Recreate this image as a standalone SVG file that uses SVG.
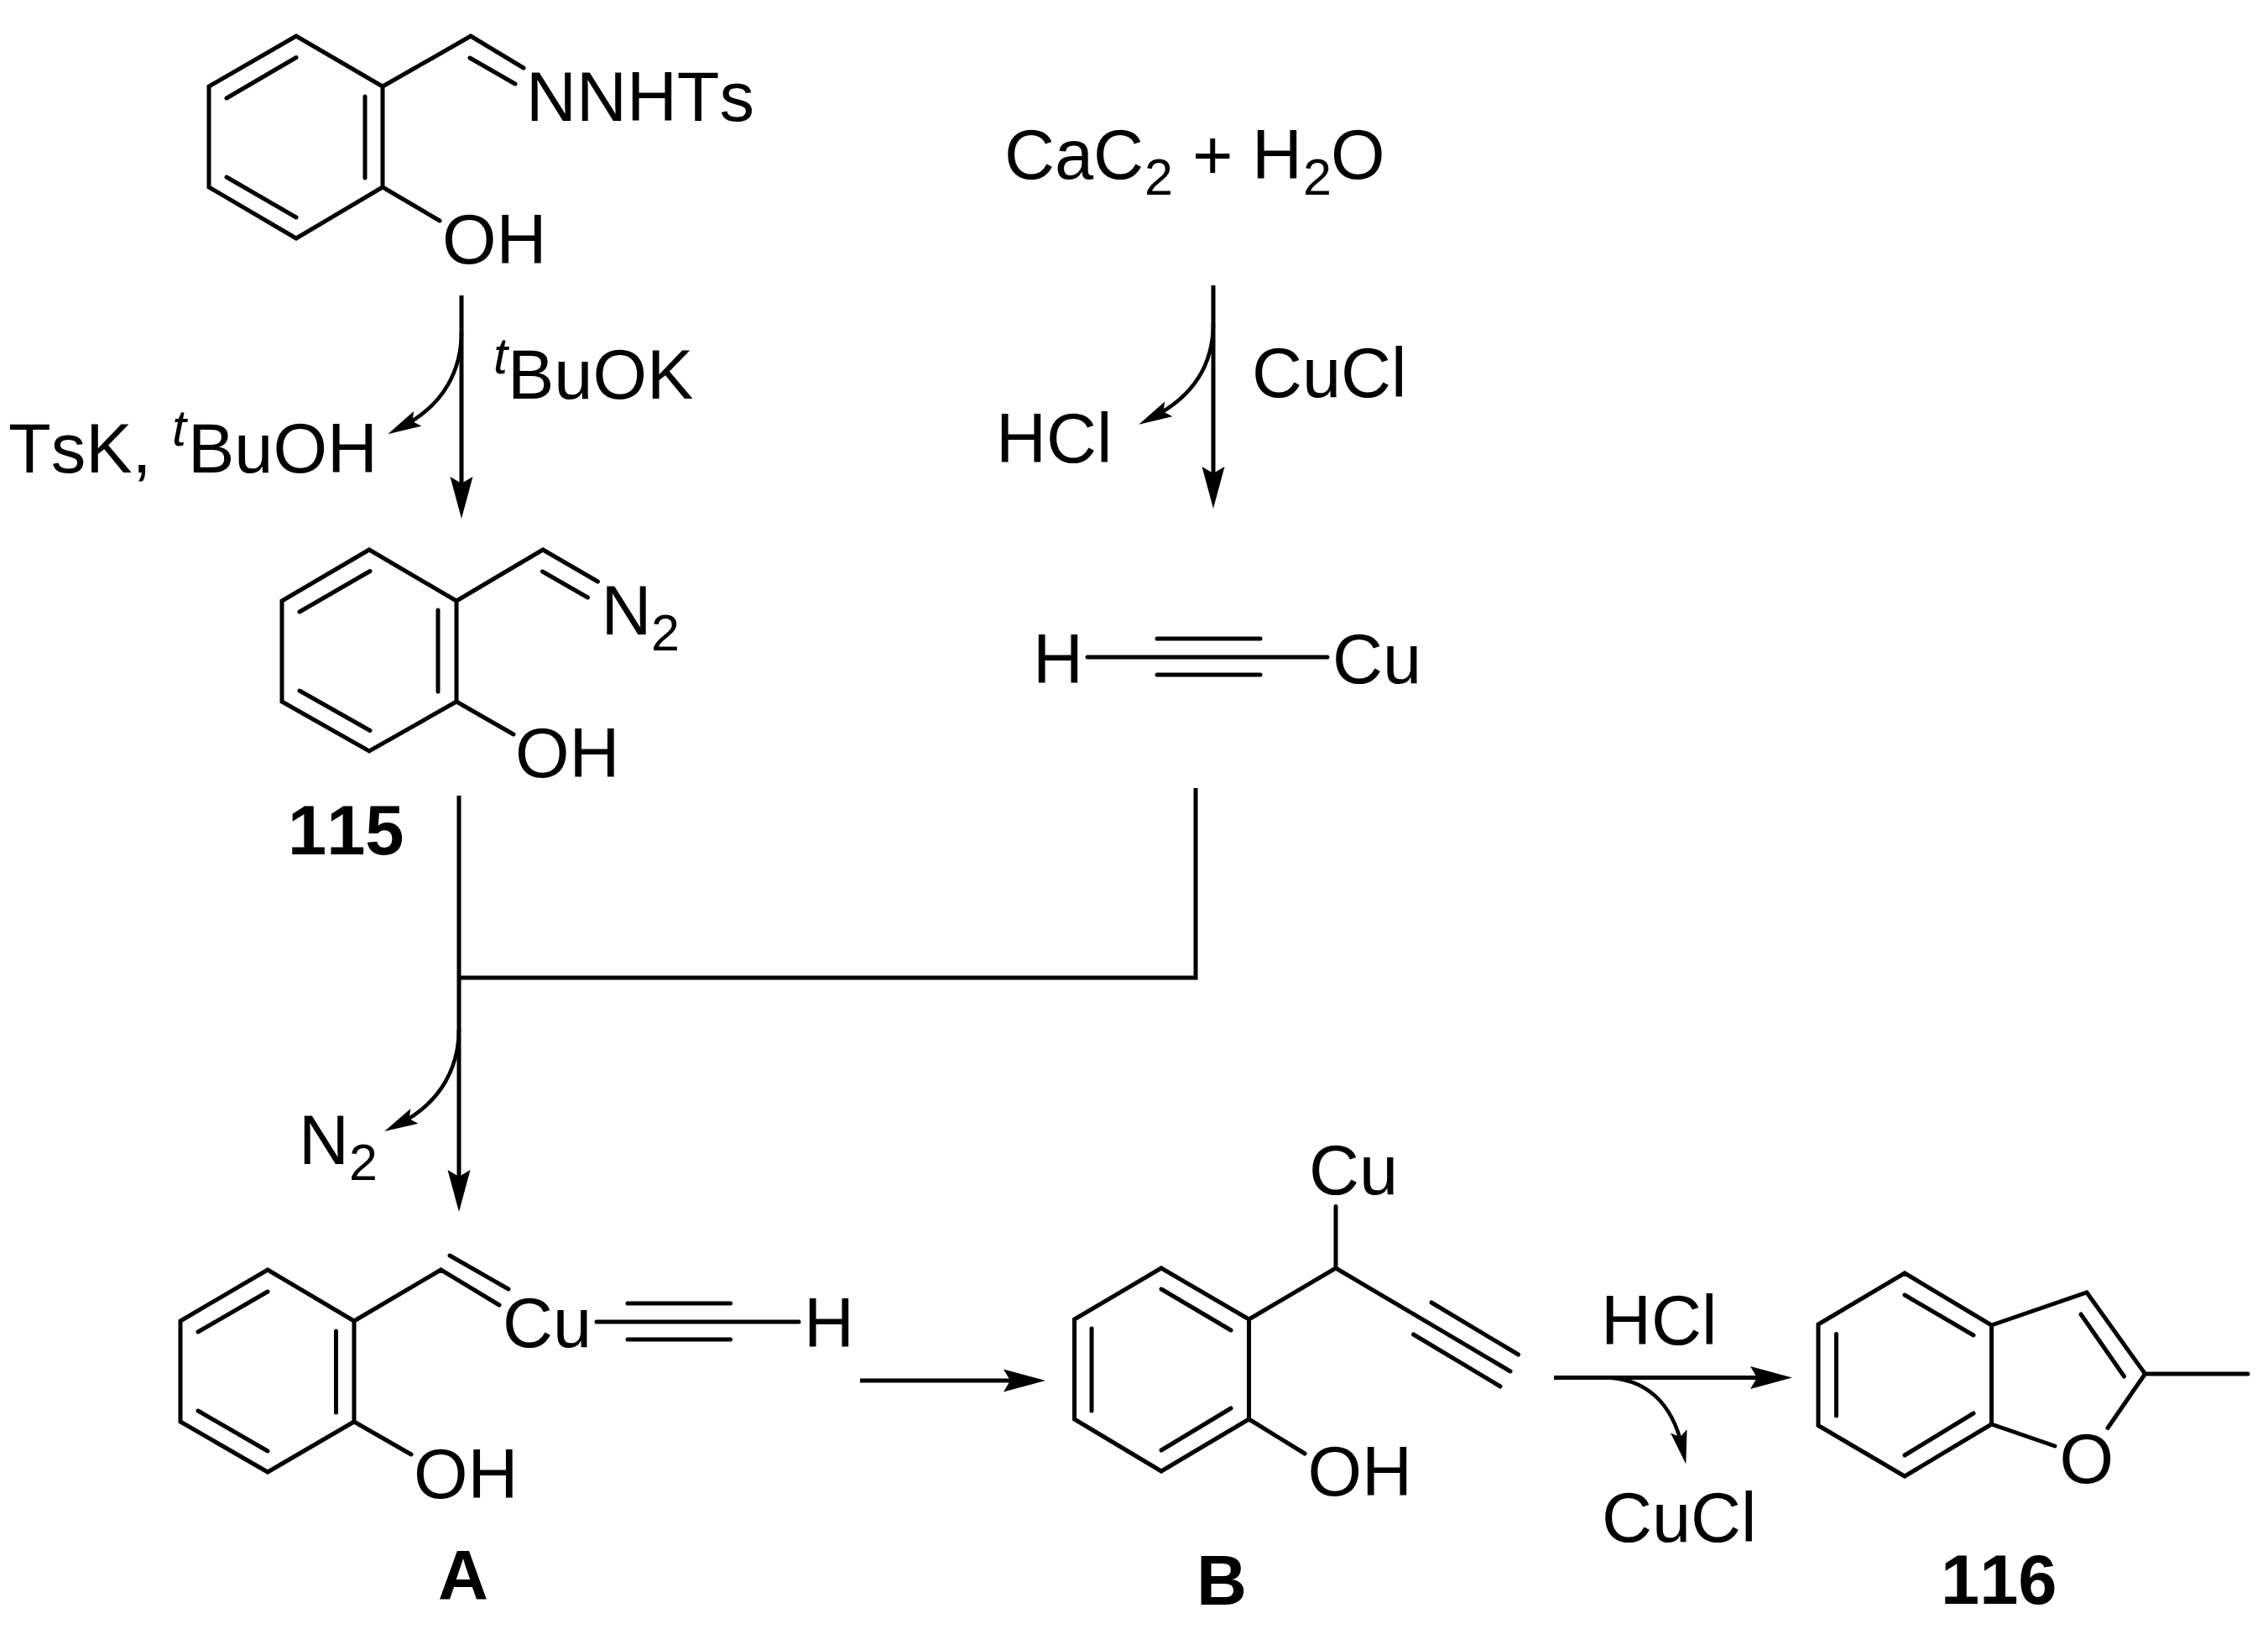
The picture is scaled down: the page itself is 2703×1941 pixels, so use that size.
<svg xmlns="http://www.w3.org/2000/svg" width="2703" height="1941" viewBox="0 0 2703 1941">
<style>
text{font-family:"Liberation Sans",Arial,sans-serif;font-size:83px;font-kerning:none;fill:#000}
.s{font-size:61px}
.b{font-weight:700}
.i{font-style:italic;font-size:61px}
.bond{fill:none;stroke:#000;stroke-width:5;stroke-linecap:round;stroke-linejoin:miter}
.conn{fill:none;stroke:#000;stroke-width:5}
.thin{fill:none;stroke:#000;stroke-width:4.5}
</style>
<defs>
<marker id="big" markerUnits="userSpaceOnUse" markerWidth="52" markerHeight="30" viewBox="0 -15 52 30" refX="30" refY="0" orient="auto"><path d="M0 -13.5L50 0L0 13.5L8 0Z" fill="#000"/></marker>
<marker id="small" markerUnits="userSpaceOnUse" markerWidth="42" markerHeight="24" viewBox="0 -12 42 24" refX="20" refY="0" orient="auto"><path d="M0 -10L40 0L0 10L7 0Z" fill="#000"/></marker>
</defs>
<rect width="2703" height="1941" fill="#fff"/>

<g id="connectors">
<path class="conn" d="M550 352V598" marker-end="url(#big)"/>
<path class="thin" d="M550 395C550 440 530 482 480 508" marker-end="url(#small)"/>
<path class="conn" d="M1446 340V586" marker-end="url(#big)"/>
<path class="thin" d="M1446 385C1446 430 1426 470 1375 496.5" marker-end="url(#small)"/>
<path class="conn" d="M547 948V1424" marker-end="url(#big)"/>
<path class="conn" d="M547 1165H1425V939"/>
<path class="thin" d="M547 1226C547 1270 527 1313 476 1339" marker-end="url(#small)"/>
<path class="conn" d="M1025 1645H1226" marker-end="url(#big)"/>
<path class="conn" d="M1852 1641.5H2116" marker-end="url(#big)"/>
<path class="thin" d="M1911 1641.5C1960 1641.5 1993 1670 2005 1725" marker-end="url(#small)"/>
</g>

<g id="hydrazone">
<path class="bond" d="M353 43L456 103V223L353 284L249 223V103ZM456 103L561 43L624 81M560 69L614 100M435 115V212M270 117L353 68.5M270 211L353 259M456 223L524 263"/>
<text x="627" y="144">NNHTs</text>
<text x="527" y="314">OH</text>
</g>

<g id="reagent-tBuOK"><text x="588" y="445" class="i">t</text><text x="605" y="475">BuOK</text></g>
<g id="byproduct-TsK"><text x="10" y="563">TsK,</text><text x="205" y="531" class="i">t</text><text x="224" y="563">BuOH</text></g>

<g id="carbide">
<text x="1197" y="213">CaC</text><text x="1364" y="232" class="s">2</text>
<text x="1421" y="213">+</text>
<text x="1492" y="213">H</text><text x="1553" y="232" class="s">2</text>
<text x="1586" y="213">O</text>
</g>
<g id="reagent-CuCl"><text x="1492" y="473">CuCl</text></g>
<g id="byproduct-HCl"><text x="1187" y="551">HCl</text></g>

<g id="copper-acetylide">
<path class="bond" d="M1296 783H1582M1379 761H1502M1379 804H1502"/>
<text x="1231" y="814">H</text>
<text x="1588" y="814">Cu</text>
</g>

<g id="compound-115">
<path class="bond" d="M440 655L544 716V836L440 895L336 836V716ZM544 716L647 655L712.5 693M646.5 681L700.5 712M522 727V824M357 729L441 680.5M357 823L441 870.5M544 836L612 875"/>
<text x="716.5" y="756">N</text><text x="776" y="775" class="s">2</text>
<text x="614" y="926">OH</text>
<text x="343" y="1018" class="b">115</text>
</g>

<g id="byproduct-N2"><text x="356" y="1387">N</text><text x="416" y="1406" class="s">2</text></g>

<g id="compound-A">
<path class="bond" d="M319 1513L422 1574V1694L319 1754L215 1694V1574ZM422 1574L525.5 1513L595 1555M536 1496L606 1536M400.5 1586V1683M236 1587L319 1539M236 1681L319 1729M422 1694L490 1733M711 1575H952M748 1553H870.5M748 1596H870.5"/>
<text x="599" y="1605">Cu</text>
<text x="958" y="1605">H</text>
<text x="493" y="1785">OH</text>
<text x="522" y="1906" class="b">A</text>
</g>

<g id="compound-B">
<path class="bond" d="M1384 1511L1488.5 1572V1691L1384 1753L1280.5 1691V1572ZM1488.5 1572L1592 1511V1437.5M1592 1511L1800 1634M1706 1552L1809.5 1614M1684.5 1590L1788 1652M1384 1536L1467 1585M1301 1583V1681M1384 1728L1467 1678M1488.5 1691L1555 1732"/>
<text x="1560" y="1423">Cu</text>
<text x="1558.5" y="1782">OH</text>
<text x="1426" y="1912" class="b">B</text>
</g>

<g id="label-HCl"><text x="1908" y="1602">HCl</text></g>
<g id="label-CuCl"><text x="1909" y="1837">CuCl</text></g>

<g id="compound-116">
<path class="bond" d="M2270 1517L2373.5 1579V1697L2270 1759L2167 1698.5V1578ZM2373.5 1579L2487 1540L2556.5 1637H2679M2556.5 1637L2512 1701.5M2373.5 1697L2449 1723M2480 1566L2531.5 1640M2270 1543L2352 1591M2188.5 1589.5V1687M2270 1734L2352 1684"/>
<text x="2454.5" y="1767">O</text>
<text x="2313" y="1911" class="b">116</text>
</g>
</svg>
